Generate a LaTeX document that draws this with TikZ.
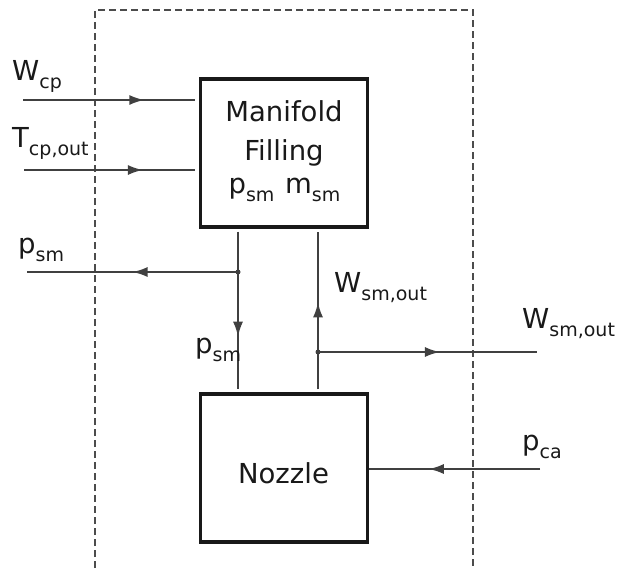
\documentclass[tikz,border=0pt]{standalone}
\usepackage{fontspec}
\setmainfont{DejaVu Sans}
\usetikzlibrary{arrows.meta,decorations.markings}
\newcommand{\sbs}[1]{\raisebox{-8pt}{\fontsize{19}{19}\selectfont #1}}
\begin{document}
\begin{tikzpicture}[x=1pt,y=-1pt,
  blk/.style={draw=black!90, line width=3.2pt, minimum width=167pt, minimum height=148pt, inner sep=0pt},
  sig/.style={draw=black!75, line width=2pt},
  lbl/.style={inner sep=0pt, anchor=base west, text=black!90, font=\fontsize{27.5}{30}\selectfont},
  txt/.style={inner sep=0pt, anchor=base, text=black!90, font=\fontsize{27.5}{30}\selectfont},
  midarrow/.style={postaction={decorate}, decoration={markings, mark=at position #1 with {\arrow{Latex[length=15pt,width=10pt]}}}},
  junction/.style={circle, fill=black!75, inner sep=0pt, minimum size=5pt},
  boundary/.style={draw=black!70, line width=1.5pt, dash pattern=on 7pt off 4pt}]
\useasboundingbox (0,0) rectangle (617,571);
\draw[boundary] (95,568) -- (95,10) -- (473,10) -- (473,568);
\node[blk] (man) at (284,153) {};
\node[blk] (noz) at (283.75,468) {};
\node[txt] (t1) at (284,121) {Manifold};
\node[txt] (t2) at (284,160) {Filling};
\node[txt] (t3) at (284.5,193) {p\sbs{sm}\ \hspace{2pt}m\sbs{sm}};
\node[txt] (t4) at (283.5,483) {Nozzle};
\coordinate (wcpS) at (23,100);
\coordinate (tcpS) at (24,170);
\coordinate (psmE) at (27,272);
\coordinate (wsmE) at (537,352);
\coordinate (pcaS) at (540,469);
\coordinate (j1) at (238,272);
\coordinate (j2) at (318,352);
\draw[sig, midarrow=0.69, shorten >=4pt] (wcpS) -- (wcpS -| man.west);
\draw[sig, midarrow=0.68, shorten >=4pt] (tcpS) -- (tcpS -| man.west);
\draw[sig, midarrow=0.66, shorten >=3pt, shorten <=3pt] (man.south -| j1) -- (noz.north -| j1);
\draw[sig, midarrow=0.50] (j1) -- (psmE);
\draw[sig, midarrow=0.55, shorten >=3pt, shorten <=3pt] (noz.north -| j2) -- (man.south -| j2);
\draw[sig, midarrow=0.557] (j2) -- (wsmE);
\draw[sig, midarrow=0.65] (pcaS) -- (pcaS -| noz.east);
\node[junction] (d1) at (j1) {};
\node[junction] (d2) at (j2) {};
\node[lbl] (lwcp) at (12,80) {W\sbs{cp}};
\node[lbl] (ltcp) at (12,147) {T\sbs{cp,out}};
\node[lbl] (lpsm1) at (18,253) {p\sbs{sm}};
\node[lbl] (lpsm2) at (195,353) {p\sbs{sm}};
\node[lbl] (lwsm1) at (334,292) {W\sbs{sm,out}};
\node[lbl] (lwsm2) at (522,328) {W\sbs{sm,out}};
\node[lbl] (lpca) at (522,450) {p\sbs{ca}};
\end{tikzpicture}
\end{document}
